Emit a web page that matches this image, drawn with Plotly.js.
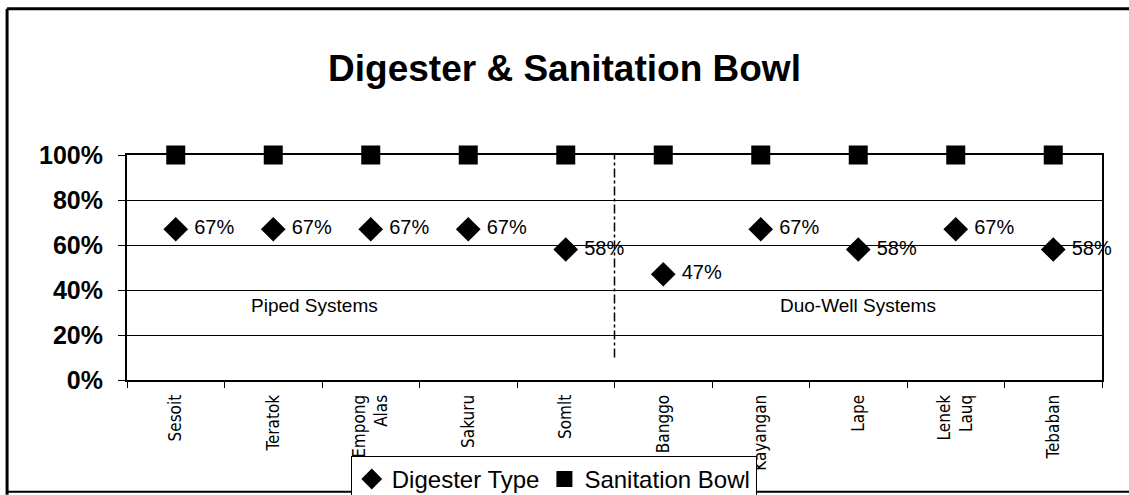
<!DOCTYPE html>
<html><head><meta charset="utf-8">
<script src="https://cdn.plot.ly/plotly-3.0.1.min.js"></script>
<style>html,body{margin:0;padding:0;background:#fff;}#chart{width:1129px;height:495px;}</style>
</head><body><div id="chart"></div>
<script>
var categories = ["Sesoit","Teratok","Empong<br>Alas","Sakuru","Somlt","Banggo","Kayangan","Lape","Lenek<br>Lauq","Tebaban"];
var digesterType = [0.67,0.67,0.67,0.67,0.58,0.47,0.67,0.58,0.67,0.58];
var sanitationBowl = [1,1,1,1,1,1,1,1,1,1];
var groupLabels = ["Piped Systems","Duo-Well Systems"];
var pipedCount = 5;

var traces = [
 {x: categories, y: digesterType, name: "Digester Type", type: "scatter", mode: "markers+text",
  marker: {symbol: "diamond", size: 19, color: "#000"},
  text: digesterType.map(function(v){return " " + Math.round(v*100)+"%";}),
  textposition: "middle right", textfont: {family: "Liberation Sans, Arial", size: 20, color: "#000"},
  cliponaxis: false},
 {x: categories, y: sanitationBowl, name: "Sanitation Bowl", type: "scatter", mode: "markers",
  marker: {symbol: "square", size: 19, color: "#000"}, cliponaxis: false}
];

var layout = {
 width: 1129, height: 495,
 margin: {l: 127, r: 27, t: 155, b: 115},
 paper_bgcolor: "#fff", plot_bgcolor: "#fff",
 title: {text: "<b>Digester & Sanitation Bowl</b>", font: {family: "Liberation Sans, Arial", size: 37, color: "#000"},
  x: 0.5, xref: "container", xanchor: "center", y: 0.862, yanchor: "middle"},
 showlegend: true,
 legend: {orientation: "h", x: 0.4905, xref: "container", xanchor: "center", y: 0.079, yref: "container", yanchor: "top",
  bgcolor: "#fff", bordercolor: "#000", borderwidth: 1,
  font: {family: "Liberation Sans, Arial", size: 24, color: "#000"}, itemwidth: 30, tracegroupgap: 0},
 xaxis: {type: "category", tickson: "boundaries", ticks: "outside", ticklen: 6, tickcolor: "#000", tickwidth: 1,
  showgrid: false, showline: true, linecolor: "#000", linewidth: 2, mirror: true, tickangle: -90,
  ticklabelstandoff: 6,
  tickfont: {family: "Liberation Sans Narrow, DejaVu Sans Condensed, Arial Narrow", size: 17, color: "#000"},
  range: [-0.5, categories.length - 0.5], fixedrange: true},
 yaxis: {range: [0, 1], tickvals: [0,0.2,0.4,0.6,0.8,1], ticktext: ["0%","20%","40%","60%","80%","100%"],
  ticks: "outside", ticklen: 7, tickcolor: "#000", tickwidth: 1, ticklabelstandoff: 10,
  showgrid: true, gridcolor: "#000", gridwidth: 1, zeroline: false,
  showline: true, linecolor: "#000", linewidth: 2, mirror: true,
  tickfont: {family: "Liberation Sans, Arial", size: 25, color: "#000", weight: "bold"}, fixedrange: true},
 shapes: [
  {type: "line", xref: "x", yref: "y", x0: pipedCount - 0.5, x1: pipedCount - 0.5, y0: 0.1, y1: 1,
   line: {color: "#000", width: 1.5, dash: "dashdot"}},
  {type: "line", xref: "paper", yref: "paper", x0: -0.123, x1: -0.123, y0: -0.51, y1: 1.65, line: {color: "#000", width: 3}},
  {type: "line", xref: "paper", yref: "paper", x0: -0.123, x1: 1.05, y0: 1.65, y1: 1.65, line: {color: "#000", width: 3}},
  {type: "line", xref: "paper", yref: "paper", x0: -0.123, x1: 1.05, y0: -0.497, y1: -0.497, line: {color: "#000", width: 2}}
 ],
 annotations: [
  {xref: "x", yref: "y", x: 1.42, y: 0.33, text: groupLabels[0], showarrow: false,
   font: {family: "Liberation Sans, Arial", size: 19, color: "#000"}},
  {xref: "x", yref: "y", x: 7, y: 0.33, text: groupLabels[1], showarrow: false,
   font: {family: "Liberation Sans, Arial", size: 19, color: "#000"}}
 ]
};
Plotly.newPlot("chart", traces, layout, {displayModeBar: false, staticPlot: true});
</script></body></html>
